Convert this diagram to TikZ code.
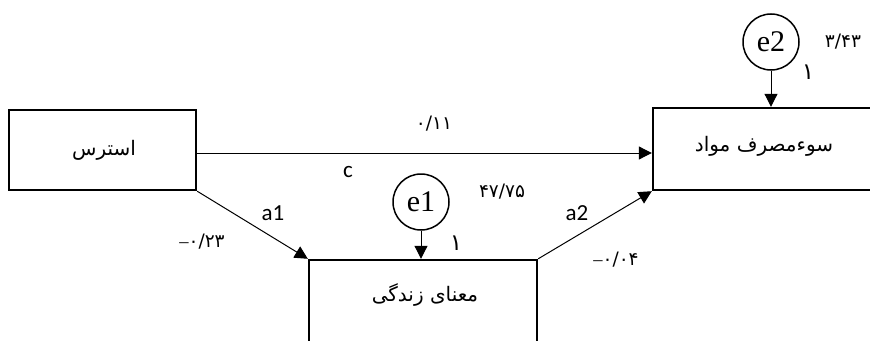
\documentclass[tikz,border=0pt]{standalone}
\usepackage{fontspec}
\setmainfont{Liberation Serif}
\newfontfamily\fa[Script=Arabic]{DejaVu Sans}
\newfontfamily\lat{Carlito}
\TeXXeTstate=1
\usetikzlibrary{arrows.meta}
\begin{document}
\begin{tikzpicture}[x=1pt,y=-1pt,
  box/.style={draw,line width=2.4pt,rectangle,inner sep=0pt},
  boxtext/.style={font=\fa\fontsize{20}{22}\selectfont,inner sep=0pt},
  err/.style={draw,circle,line width=1.5pt,minimum size=56pt,inner sep=0pt,font=\fontsize{30}{32}\selectfont},
  conn/.style={line width=1pt,-{Triangle[length=13pt,width=13pt]}},
  coef/.style={font=\fa\fontsize{18.5}{20}\selectfont,inner sep=0pt},
  one/.style={font=\fa\fontsize{23}{25}\selectfont,inner sep=0pt},
  path/.style={font=\lat\fontsize{23}{25}\selectfont,inner sep=0pt}]
\useasboundingbox (0,0) rectangle (870,340);

% variables
\node[box,minimum width=187pt,minimum height=80pt] (stress) at (102.5,150) {};
\node[boxtext] (stresst) at (104,150) {\beginR استرس\endR};
\node[box,minimum width=222pt,minimum height=82pt] (abuse) at (764,149) {};
\node[boxtext] (abuset) at (764,146) {\beginR سوءمصرف مواد\endR};
\node[box,minimum width=228pt,minimum height=82pt] (mean) at (423,301) {};
\node[boxtext] (meant) at (425,295) {\beginR معنای زندگی\endR};

% error terms
\node[err] (e1) at (421,202) {e1};
\node[err] (e2) at (771,42) {e2};

% paths
\coordinate (cstart) at ([yshift=-3pt]stress.east);
\draw[conn] (cstart) -- (cstart -| abuse.west);
\draw[conn] (stress.south east) -- (mean.north west);
\draw[conn] (mean.north east) -- (abuse.south west);
\draw[conn] (e1.south) -- (e1.south |- mean.north);
\draw[conn] (e2.south) -- (e2.south |- abuse.north);

% path labels
\node[path] (lc) at (348,172) {c};
\node[path] (la1) at (273,213) {a1};
\node[path] (la2) at (577,213) {a2};

% coefficients
\node[coef] (k1) at (434,124) {۰/۱۱};
\node[coef] (k2) at (202,242) {{\rmfamily –}۰/۲۳};
\node[coef] (k3) at (502,192) {۴۷/۷۵};
\node[coef] (k4) at (616,260) {{\rmfamily –}۰/۰۴};
\node[coef] (k5) at (843,42) {۳/۴۳};
\node[one] (k6) at (456,243) {۱};
\node[one] (k7) at (808,72) {۱};
\end{tikzpicture}
\end{document}
